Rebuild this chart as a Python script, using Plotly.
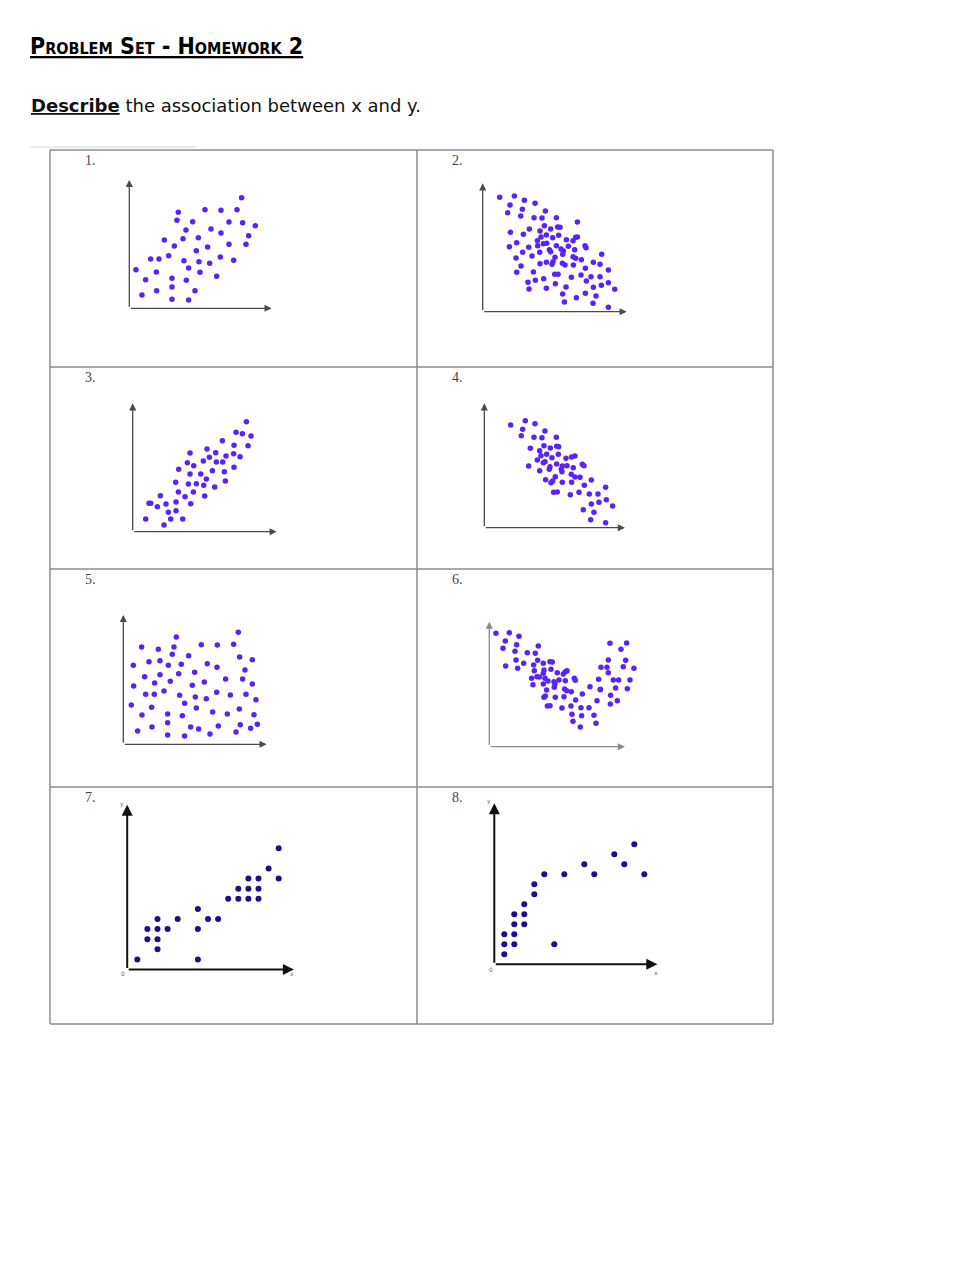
"""Worksheet page: eight scatter plots describing the association between x and y."""

import plotly.graph_objects as go

W, H = 979, 1266

p1_x = [337, 147, 227, 275, 323, 143, 190, 299, 340, 378, 170, 245, 275, 358, 105,
        161, 207, 135, 235, 299, 350, 201, 118, 64, 89, 164, 209, 241, 273, 313,
        178, 20, 81, 212, 262, 49, 128, 171, 128, 82, 197, 38, 128, 178]
p1_y = [332, 288, 296, 294, 296, 264, 260, 259, 257, 248, 235, 238, 226, 218, 205,
        209, 212, 187, 184, 192, 192, 173, 158, 148, 148, 143, 140, 135, 154, 144,
        121, 116, 109, 108, 96, 86, 90, 84, 64, 53, 53, 40, 27, 25]

p2_x = [51, 95, 125, 157, 82, 119, 75, 188, 114, 154, 178, 221, 284, 185, 225, 232,
        140, 83, 122, 172, 204, 228, 191, 175, 210, 164, 251, 279, 284, 271, 102, 80,
        138, 165, 182, 192, 221, 200, 235, 257, 307, 310, 120, 148, 171, 204, 242, 240,
        276, 100, 217, 271, 279, 296, 357, 172, 191, 208, 211, 239, 247, 272, 332, 352,
        115, 308, 377, 102, 152, 216, 226, 266, 295, 325, 352, 183, 158, 136, 218, 356,
        377, 311, 139, 191, 250, 332, 396, 240, 308, 340, 281, 245, 331, 377]
p2_y = [343, 347, 334, 325, 320, 307, 297, 302, 287, 282, 281, 282, 269, 258, 254, 253,
        248, 238, 232, 242, 248, 229, 230, 224, 222, 213, 216, 223, 224, 213, 207, 195,
        193, 198, 204, 205, 198, 186, 188, 196, 198, 192, 178, 167, 178, 180, 182, 172,
        186, 161, 163, 165, 160, 156, 172, 144, 148, 142, 150, 145, 140, 140, 148, 142,
        137, 130, 125, 118, 119, 112, 112, 103, 110, 105, 105, 99, 94, 88, 84, 79,
        87, 92, 68, 70, 74, 73, 67, 53, 55, 47, 42, 29, 25, 13]

p3_x = [341, 310, 329, 355, 269, 304, 346, 223, 172, 249, 230, 280, 303, 322, 164, 183,
        212, 251, 270, 138, 172, 204, 239, 275, 304, 221, 129, 167, 191, 213, 246, 278,
        137, 182, 83, 157, 216, 49, 54, 74, 100, 130, 174, 107, 130, 39, 114, 150, 94]
p3_y = [330, 298, 294, 287, 273, 259, 258, 248, 236, 237, 223, 227, 234, 225, 207, 198,
        212, 209, 209, 187, 173, 173, 183, 180, 193, 158, 148, 143, 144, 139, 134, 152,
        119, 119, 108, 105, 107, 85, 85, 75, 83, 89, 84, 58, 63, 38, 38, 38, 20]

p4_x = [79, 123, 152, 115, 111, 182, 149, 173, 216, 138, 179, 198, 217, 223, 166, 187,
        170, 203, 222, 245, 262, 272, 159, 177, 182, 217, 197, 234, 231, 248, 267, 294,
        299, 133, 166, 195, 213, 233, 261, 272, 287, 184, 200, 205, 234, 262, 300, 321,
        364, 208, 219, 258, 284, 315, 341, 366, 344, 321, 385, 297, 329, 319, 364]
p4_y = [308, 321, 312, 295, 276, 290, 271, 270, 271, 238, 246, 239, 244, 243, 231, 220,
        216, 210, 220, 208, 212, 215, 203, 195, 198, 191, 183, 185, 175, 186, 180, 190,
        186, 185, 171, 175, 153, 168, 160, 152, 151, 144, 135, 140, 136, 136, 127, 143,
        121, 106, 107, 99, 106, 101, 101, 84, 76, 71, 65, 54, 46, 24, 15]

p5_x = [345, 159, 55, 105, 152, 234, 282, 331, 147, 196, 349, 387, 30, 77, 110, 135,
        174, 252, 281, 365, 64, 110, 166, 214, 307, 358, 31, 94, 141, 207, 243, 387,
        67, 93, 122, 169, 216, 249, 280, 321, 368, 398, 24, 85, 184, 219, 268, 312,
        348, 56, 133, 177, 392, 133, 86, 202, 226, 285, 351, 382, 402, 43, 133, 184,
        260, 338]
p5_y = [336, 322, 292, 285, 292, 299, 298, 300, 270, 266, 262, 254, 237, 248, 251, 237,
        240, 242, 231, 223, 203, 209, 212, 216, 196, 196, 175, 184, 189, 177, 187, 181,
        150, 150, 160, 147, 142, 137, 156, 148, 150, 134, 118, 111, 123, 109, 97, 91,
        106, 88, 91, 86, 89, 65, 52, 52, 46, 55, 59, 48, 60, 40, 28, 25,
        31, 37]

p6_x = [20, 60, 89, 48, 82, 41, 77, 114, 138, 147, 80, 103, 49, 85, 133, 145,
        162, 182, 189, 135, 164, 185, 127, 143, 150, 162, 167, 204, 228, 233, 222, 131,
        162, 176, 194, 197, 209, 228, 255, 258, 172, 195, 226, 232, 246, 164, 168, 198,
        224, 259, 279, 302, 328, 333, 174, 182, 218, 245, 275, 299, 323, 248, 277, 314,
        251, 273, 320, 362, 412, 395, 357, 409, 335, 353, 402, 434, 357, 372, 388, 422,
        333, 379, 414, 364, 384, 363]
p6_y = [340, 342, 331, 317, 306, 295, 286, 282, 280, 302, 260, 250, 242, 235, 245, 259,
        250, 255, 254, 228, 230, 232, 205, 210, 209, 220, 205, 222, 225, 228, 218, 186,
        188, 197, 195, 188, 200, 198, 205, 199, 170, 178, 173, 168, 165, 148, 152, 148,
        150, 140, 158, 180, 202, 171, 122, 123, 116, 122, 117, 117, 138, 97, 93, 94,
        76, 59, 70, 310, 311, 292, 260, 259, 238, 238, 240, 235, 222, 200, 200, 200,
        172, 176, 174, 154, 138, 128]

p7_x = [1, 2, 2, 3, 3, 3, 3, 4, 5, 7, 7, 7, 8, 9, 10, 11, 11, 12, 12, 12, 13, 13, 13,
        14, 15, 15]
p7_y = [1, 4, 3, 5, 4, 3, 2, 4, 5, 6, 4, 1, 5, 5, 7, 8, 7, 9, 8, 7, 9, 8, 7,
        10, 12, 9]

p8_x = [1, 1, 1, 2, 2, 2, 2, 3, 3, 3, 4, 4, 5, 6, 7, 9, 10, 12, 13, 14, 15]
p8_y = [1, 2, 3, 2, 3, 4, 5, 4, 5, 6, 7, 8, 9, 2, 9, 10, 9, 11, 10, 12, 9]

panel_labels = ["1.", "2.", "3.", "4.", "5.", "6.", "7.", "8."]

# ---- page layout (pixels) ----
col_edges = [(50, 417), (417, 773)]
row_edges = [(150, 367), (367, 569), (569, 787), (787, 1024)]

VIOLET = "#5a22f6"
NAVY = "#1f0d8c"

# origin of each drawn axis in page px, px per data unit, axis tip lengths (data units)
panels = [
    dict(x=p1_x, y=p1_y, origin=(129.3, 308.3), scale=1 / 3, tips=(427, 385),
         dot=VIOLET, size=5.5, axis="#4a4a4a", width=1.3),
    dict(x=p2_x, y=p2_y, origin=(482.7, 311.7), scale=1 / 3, tips=(432, 385),
         dot=VIOLET, size=5.5, axis="#4a4a4a", width=1.3),
    dict(x=p3_x, y=p3_y, origin=(132.7, 531.7), scale=1 / 3, tips=(432, 385),
         dot=VIOLET, size=5.5, axis="#4a4a4a", width=1.3),
    dict(x=p4_x, y=p4_y, origin=(484.3, 527.7), scale=1 / 3, tips=(422, 373),
         dot=VIOLET, size=5.5, axis="#4a4a4a", width=1.3),
    dict(x=p5_x, y=p5_y, origin=(123.3, 744.3), scale=1 / 3, tips=(430, 388),
         dot=VIOLET, size=5.5, axis="#4a4a4a", width=1.3),
    dict(x=p6_x, y=p6_y, origin=(489.3, 746.7), scale=1 / 3, tips=(407, 375),
         dot=VIOLET, size=5.5, axis="#8a8a8a", width=1.3),
    dict(x=p7_x, y=p7_y, origin=(127.2, 969.5), scale=10.1, tips=(16.5, 16.3),
         dot=NAVY, size=6, axis="#111111", width=2),
    dict(x=p8_x, y=p8_y, origin=(494.3, 964.3), scale=10, tips=(16.3, 16.1),
         dot=NAVY, size=6, axis="#111111", width=2),
]

fig = go.Figure()
annotations = []
shapes = []


def px_x(v):
    return v / W


def px_y(v):
    return 1 - v / H


for i, p in enumerate(panels):
    n = i + 1
    xa, ya = f"x{n}", f"y{n}"
    left, right = col_edges[i % 2]
    top, bottom = row_edges[i // 2]
    ox, oy = p["origin"]
    s = p["scale"]

    fig.add_trace(
        go.Scatter(
            x=p["x"], y=p["y"], mode="markers", xaxis=xa, yaxis=ya,
            marker=dict(color=p["dot"], size=p["size"], line=dict(width=0)),
            showlegend=False, hoverinfo="x+y",
        )
    )

    fig.layout[f"xaxis{n}"] = dict(
        domain=[px_x(left), px_x(right)], range=[(left - ox) / s, (right - ox) / s],
        visible=False, fixedrange=True, anchor=ya,
    )
    fig.layout[f"yaxis{n}"] = dict(
        domain=[px_y(bottom), px_y(top)], range=[(oy - bottom) / s, (oy - top) / s],
        visible=False, fixedrange=True, anchor=xa,
    )

    tx, ty = p["tips"]
    for hx, hy in [(0, ty), (tx, 0)]:
        annotations.append(dict(
            x=hx, y=hy, ax=0, ay=0, xref=xa, yref=ya, axref=xa, ayref=ya,
            text="", showarrow=True, arrowhead=2, arrowsize=1.1,
            arrowwidth=p["width"], arrowcolor=p["axis"], standoff=0, startstandoff=0,
        ))

    # panel number
    annotations.append(dict(
        x=px_x(left + 33), y=px_y(top + 10),
        xref="paper", yref="paper", text=panel_labels[i], showarrow=False,
        xanchor="left", yanchor="middle",
        font=dict(family="Liberation Serif", size=14, color="#444444"),
    ))

# tiny axis labels on panels 7 and 8
for n, lab in [(7, [("y", -0.55, 16.4), ("0", -0.45, -0.35), ("x", 16.3, -0.35)]),
               (8, [("y", -0.55, 16.3), ("0", -0.35, -0.55), ("x", 16.2, -0.85)])]:
    for txt, lx, ly in lab:
        annotations.append(dict(
            x=lx, y=ly, xref=f"x{n}", yref=f"y{n}", text=txt, showarrow=False,
            font=dict(family="DejaVu Sans", size=6, color="#666666"),
        ))

# table grid
line = dict(color="#8c8c8c", width=1.5)
for yy in [150, 367, 569, 787, 1024]:
    shapes.append(dict(type="line", xref="paper", yref="paper",
                       x0=px_x(50), x1=px_x(773), y0=px_y(yy), y1=px_y(yy), line=line))
for xx in [50, 417, 773]:
    shapes.append(dict(type="line", xref="paper", yref="paper",
                       x0=px_x(xx), x1=px_x(xx), y0=px_y(150), y1=px_y(1024), line=line))
shapes.append(dict(type="line", xref="paper", yref="paper", x0=px_x(30), x1=px_x(196),
                   y0=px_y(147), y1=px_y(147), line=dict(color="#dbe5f1", width=1.5)))

# heading text
annotations.append(dict(
    x=px_x(28), y=px_y(46), xref="paper", yref="paper", xanchor="left", yanchor="middle",
    text="<u><b>Problem Set - Homework 2</b></u>", showarrow=False,
    font=dict(family="DejaVu Sans Condensed, Liberation Sans Narrow", size=23,
              color="#000000", variant="small-caps"),
))
annotations.append(dict(
    x=px_x(29), y=px_y(105), xref="paper", yref="paper", xanchor="left", yanchor="middle",
    text="<u><b>Describe</b></u> the association between x and y.", showarrow=False,
    font=dict(family="DejaVu Sans", size=18, color="#111111"),
))

fig.update_layout(
    width=W, height=H, autosize=False,
    margin=dict(l=0, r=0, t=0, b=0),
    paper_bgcolor="white", plot_bgcolor="rgba(0,0,0,0)",
    annotations=annotations, shapes=shapes,
)

fig.write_html("out.html", config={"displayModeBar": False},
               post_script="document.body.style.margin = '0';")
